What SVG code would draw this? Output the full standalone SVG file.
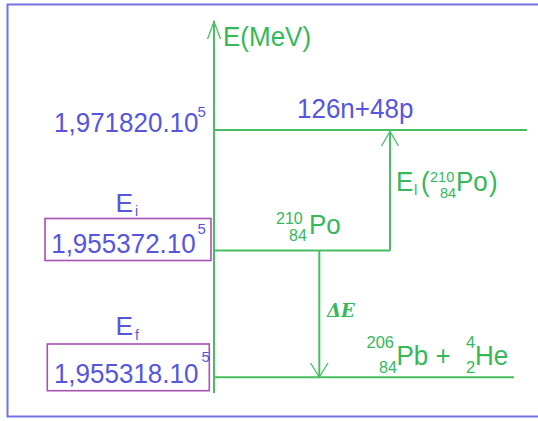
<svg xmlns="http://www.w3.org/2000/svg" width="538" height="421" viewBox="0 0 538 421">
<style>
.t{font-family:"Liberation Sans",Arial,sans-serif}
.b{fill:#5656dc}
.g{fill:#36b85a}
.ln{stroke:#46be62;stroke-width:2;fill:none}
.ah{stroke:#46be62;stroke-width:1.3;fill:none}
.box{fill:none;stroke:#a652b2;stroke-width:1.6}
.de{font-family:"DejaVu Serif","Liberation Serif",serif;font-style:italic;font-weight:bold}
</style>
<rect x="0" y="0" width="538" height="421" fill="#ffffff"/>
<rect id="frame" x="7.5" y="4.5" width="540" height="412" fill="none" stroke="#7373e4" stroke-width="2"/>

<g id="axis">
  <text class="t g" font-size="26" transform="translate(223,46) scale(1,1.08)">E(MeV)</text>
</g>

<g id="level-top">
  <line class="ln" x1="214" y1="130" x2="527" y2="130"/>
  <text class="t b" font-size="26" transform="translate(54,131.5) scale(1,1.08)">1,971820.10</text>
  <text class="t b" font-size="15" x="197.5" y="116.7">5</text>
  <text class="t b" font-size="26" transform="translate(297,118) scale(1,1.08)">126n+48p</text>
</g>

<g id="level-po">
  <line class="ln" x1="214" y1="250.5" x2="390" y2="250.5"/>
  <text class="t g" font-size="16" x="276" y="223.5">210</text>
  <text class="t g" font-size="16" x="289" y="240.5">84</text>
  <text class="t g" font-size="26" transform="translate(309,234.3) scale(1,1.08)">Po</text>
</g>

<g id="box-ei">
  <text class="t b" font-size="24" transform="translate(115.4,212) scale(1.1,1.08)">E</text>
  <text class="t b" font-size="14" x="135" y="215.5">i</text>
  <rect class="box" x="45" y="218.5" width="166" height="42"/>
  <text class="t b" font-size="26" transform="translate(51.2,253.3) scale(1,1.08)">1,955372.10</text>
  <text class="t b" font-size="15" x="197.5" y="234.3">5</text>
</g>

<g id="box-ef">
  <text class="t b" font-size="24" transform="translate(115.4,335) scale(1.1,1.08)">E</text>
  <text class="t b" font-size="14" x="135" y="340">f</text>
  <rect class="box" x="47.3" y="344" width="162" height="46.7"/>
  <text class="t b" font-size="26" transform="translate(53.9,382.5) scale(1,1.08)">1,955318.10</text>
  <text class="t b" font-size="15" x="201.5" y="362.3">5</text>
</g>

<g id="level-final">
  <line class="ln" x1="214" y1="377.3" x2="514" y2="377.3"/>
  <text class="t g" font-size="16.5" x="366.5" y="347.8">206</text>
  <text class="t g" font-size="16" x="379" y="373">84</text>
  <text class="t g" font-size="26" transform="translate(396.5,365) scale(1,1.08)">Pb +</text>
  <text class="t g" font-size="16.5" x="466" y="348.2">4</text>
  <text class="t g" font-size="16.5" x="466" y="373">2</text>
  <text class="t g" font-size="26" transform="translate(475,365) scale(1,1.08)">He</text>
</g>

<g id="label-el">
  <text class="t g" font-size="26" transform="translate(396,191) scale(1,1.08)">E</text>
  <text class="t g" font-size="15" x="414" y="195">l</text>
  <text class="t g" font-size="26" transform="translate(421,191) scale(1,1.08)">(</text>
  <text class="t g" font-size="14.5" x="430" y="182">210</text>
  <text class="t g" font-size="14.5" x="440" y="197.5">84</text>
  <text class="t g" font-size="26" transform="translate(456,191) scale(1,1.08)">Po</text>
  <text class="t g" font-size="26" transform="translate(489,191) scale(1,1.08)">)</text>
</g>

<g id="label-de">
  <text class="de g" font-size="18" x="327" y="317">ΔE</text>
</g>

<g id="connectors">
  <line class="ln" x1="214" y1="21" x2="214" y2="393"/>
  <polyline class="ah" points="207.5,39 214,21.5 220.5,39"/>
  <line class="ln" x1="390" y1="250.5" x2="390" y2="131.5"/>
  <polyline class="ah" points="381.5,146 390,131.5 398.5,146"/>
  <line class="ln" x1="319.3" y1="250.5" x2="319.3" y2="377"/>
  <polyline class="ah" points="310.5,363 319.3,377 328,363"/>
</g>
</svg>
